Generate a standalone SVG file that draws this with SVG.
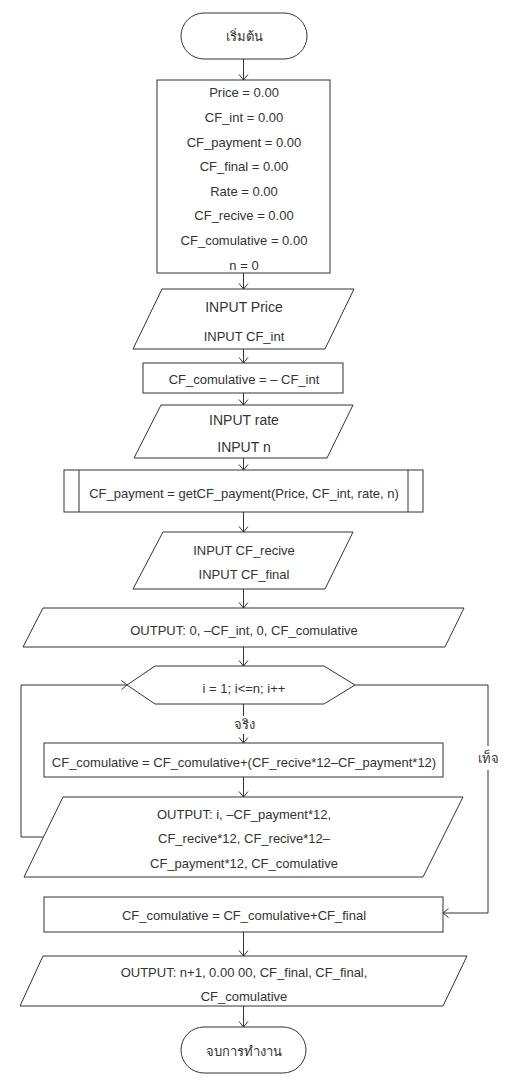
<svg xmlns="http://www.w3.org/2000/svg" width="507" height="1083" viewBox="0 0 507 1083">
<style>
.s{fill:#fff;stroke:#333;stroke-width:1}
.t{font-family:"Liberation Sans","Noto Sans","DejaVu Sans",sans-serif;font-size:13px;fill:#333;text-anchor:middle;dominant-baseline:central}
.b{font-size:14px}
.c{fill:none;stroke:#333;stroke-width:1}
</style>
<defs>
<marker id="a" markerUnits="userSpaceOnUse" viewBox="0 0 12 12" refX="10" refY="6" markerWidth="12" markerHeight="12" orient="auto">
<path d="M4.5,1.5 L10,6 L4.5,10.5" fill="none" stroke="#333" stroke-width="1"/>
</marker>
</defs>
<rect width="507" height="1083" fill="#fff"/>
<g id="connectors">
<line class="c" x1="243.5" y1="59" x2="243.5" y2="80" marker-end="url(#a)"/>
<line class="c" x1="243.5" y1="273" x2="243.5" y2="289" marker-end="url(#a)"/>
<line class="c" x1="243.5" y1="349" x2="243.5" y2="363" marker-end="url(#a)"/>
<line class="c" x1="243.5" y1="393" x2="243.5" y2="405" marker-end="url(#a)"/>
<line class="c" x1="243.5" y1="458" x2="243.5" y2="470" marker-end="url(#a)"/>
<line class="c" x1="243.5" y1="512" x2="243.5" y2="532" marker-end="url(#a)"/>
<line class="c" x1="243.5" y1="589" x2="243.5" y2="608" marker-end="url(#a)"/>
<line class="c" x1="243.5" y1="647" x2="243.5" y2="666" marker-end="url(#a)"/>
<line class="c" x1="243.5" y1="704" x2="243.5" y2="716"/>
<line class="c" x1="243.5" y1="734" x2="243.5" y2="743" marker-end="url(#a)"/>
<line class="c" x1="243.5" y1="777" x2="243.5" y2="797" marker-end="url(#a)"/>
<polyline class="c" points="43,837 21,837 21,685 127,685" marker-end="url(#a)"/>
<polyline class="c" points="355,685 488,685 488,746"/>
<polyline class="c" points="488,770 488,913 443,913" marker-end="url(#a)"/>
<line class="c" x1="243.5" y1="932" x2="243.5" y2="956" marker-end="url(#a)"/>
<line class="c" x1="243.5" y1="1006" x2="243.5" y2="1027" marker-end="url(#a)"/>
<text class="t" x="244" y="724">จริง</text>
<text class="t" x="488" y="758">เท็จ</text>
</g>
<g id="start">
<rect class="s" x="181" y="13" width="126" height="46" rx="23"/>
<text class="t" x="244" y="36">เริ่มต้น</text>
</g>
<g id="init">
<rect class="s" x="157" y="80" width="173" height="193"/>
<text class="t" x="244" y="92">Price = 0.00</text>
<text class="t" x="244" y="117">CF_int = 0.00</text>
<text class="t" x="244" y="142">CF_payment = 0.00</text>
<text class="t" x="244" y="166">CF_final = 0.00</text>
<text class="t" x="244" y="191">Rate = 0.00</text>
<text class="t" x="244" y="215">CF_recive = 0.00</text>
<text class="t" x="244" y="240">CF_comulative = 0.00</text>
<text class="t" x="244" y="265">n = 0</text>
</g>
<g id="input1">
<polygon class="s" points="162,289 354,289 325,349 133,349"/>
<text class="t b" x="244" y="307">INPUT Price</text>
<text class="t" x="244" y="336">INPUT CF_int</text>
</g>
<g id="assign1">
<rect class="s" x="143" y="363" width="200" height="30"/>
<text class="t" x="244" y="379">CF_comulative = – CF_int</text>
</g>
<g id="input2">
<polygon class="s" points="161,405 353,405 327,458 134,458"/>
<text class="t b" x="244" y="420">INPUT rate</text>
<text class="t b" x="244" y="447">INPUT n</text>
</g>
<g id="call">
<rect class="s" x="64" y="470" width="359" height="42"/>
<line class="c" x1="79" y1="470" x2="79" y2="512"/>
<line class="c" x1="408" y1="470" x2="408" y2="512"/>
<text class="t" x="244" y="493">CF_payment = getCF_payment(Price, CF_int, rate, n)</text>
</g>
<g id="input3">
<polygon class="s" points="163,532 353,532 325,589 133,589"/>
<text class="t" x="244" y="550">INPUT CF_recive</text>
<text class="t" x="244" y="574">INPUT CF_final</text>
</g>
<g id="output1">
<polygon class="s" points="43,608 464,608 445,647 23,647"/>
<text class="t" x="244" y="630">OUTPUT: 0, –CF_int, 0, CF_comulative</text>
</g>
<g id="loop">
<polygon class="s" points="127,685 155,666 324,666 355,685 324,704 155,704"/>
<text class="t" x="244" y="688">i = 1; i&lt;=n; i++</text>
</g>
<g id="assign2">
<rect class="s" x="44" y="743" width="399" height="34"/>
<text class="t" x="244" y="762">CF_comulative = CF_comulative+(CF_recive*12–CF_payment*12)</text>
</g>
<g id="output2">
<polygon class="s" points="63,797 463,797 423,877 24,877"/>
<text class="t" x="244" y="814">OUTPUT: i, –CF_payment*12,</text>
<text class="t" x="244" y="838">CF_recive*12, CF_recive*12–</text>
<text class="t" x="244" y="863">CF_payment*12, CF_comulative</text>
</g>
<g id="assign3">
<rect class="s" x="44" y="897" width="399" height="35"/>
<text class="t" x="244" y="915">CF_comulative = CF_comulative+CF_final</text>
</g>
<g id="output3">
<polygon class="s" points="43,956 467,956 443,1006 20,1006"/>
<text class="t" x="244" y="972">OUTPUT: n+1, 0.00 00, CF_final, CF_final,</text>
<text class="t" x="244" y="996">CF_comulative</text>
</g>
<g id="end">
<rect class="s" x="181" y="1027" width="125" height="46" rx="23"/>
<text class="t" x="244" y="1051">จบการทำงาน</text>
</g>
</svg>
